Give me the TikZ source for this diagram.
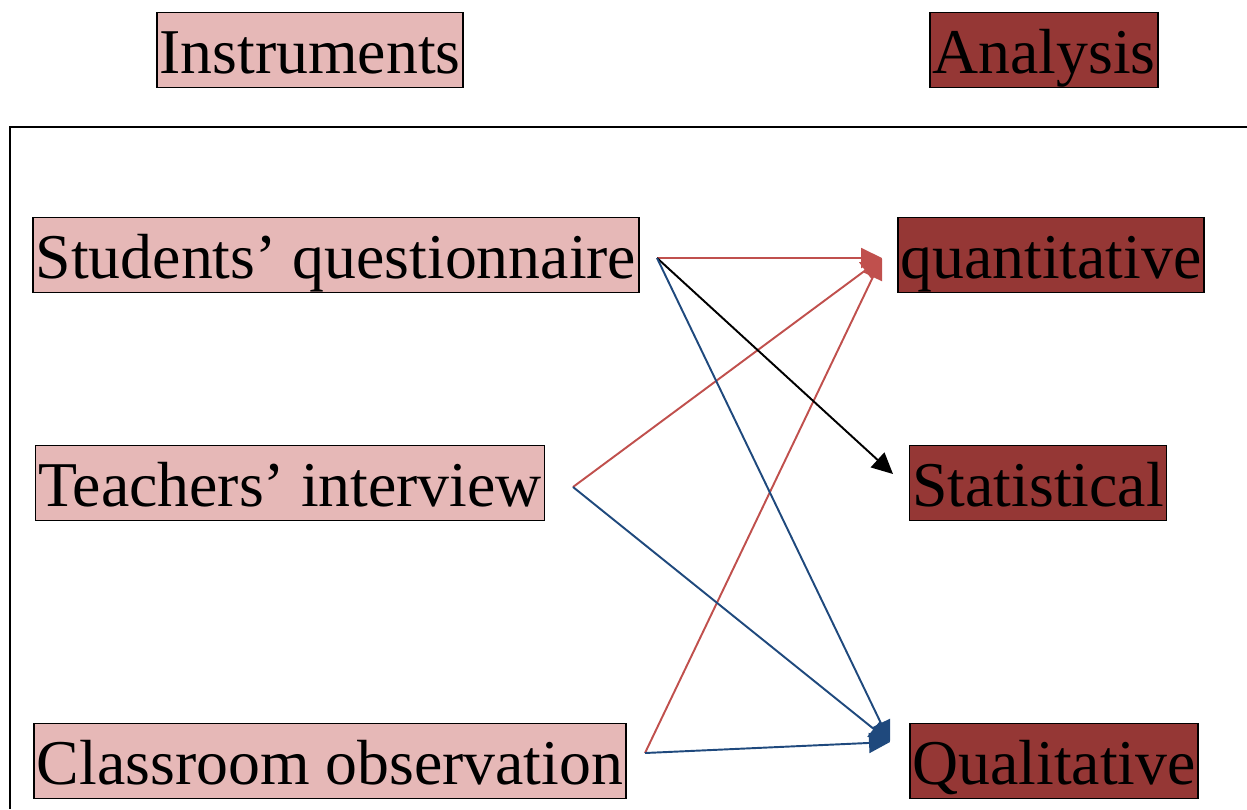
\documentclass[tikz,border=0pt]{standalone}
\usepackage{fontspec}
\setmainfont{Liberation Serif}
\usetikzlibrary{positioning,arrows.meta}
\definecolor{instrbg}{RGB}{230,184,183}
\definecolor{analysisbg}{RGB}{149,55,53}
\definecolor{linkred}{RGB}{192,80,77}
\definecolor{linkblue}{RGB}{31,73,125}

\begin{document}
\begin{tikzpicture}[x=0.02cm,y=-0.02cm,every node/.style={font=\fontsize{36.3}{40}\selectfont},instr/.style={draw,fill=instrbg,line width=1pt,inner xsep=1.5pt,inner ysep=0pt,text height=28pt,text depth=1.4pt,minimum height=1.5cm},anal/.style={instr,fill=analysisbg},link/.style={-{Triangle[length=0.42cm,width=0.4cm]},line width=1.1pt}]
        \useasboundingbox (0,0) rectangle (1247,809);
        \draw[line width=1.1pt] (1247,127) -- (10,127) -- (10,809);
        % headings
        \node[instr] (instrhead) at (310,50) {Instruments};
        \node[anal] (analhead) at (1044,50) {Analysis};
        % instruments
        \node[instr] (quest) at (336,255) {Students’ questionnaire};
        \node[instr] (interview) at (290,483) {Teachers’ interview};
        \node[instr] (observ) at (330,761) {Classroom observation};
        % analysis
        \node[anal] (quant) at (1051,255) {quantitative};
        \node[anal] (stat) at (1038,483) {Statistical};
        \node[anal] (qual) at (1054,761) {Qualitative};
        % link ends
        \coordinate (questout) at (657,258);
        \coordinate (interviewout) at (573,487);
        \coordinate (observout) at (645,753);
        \coordinate (quantin) at (882,258);
        \coordinate (statin) at (893,474);
        \coordinate (qualin) at (890,742);
        \draw[link,linkred] (questout)--(quantin);
        \draw[link,linkred] (interviewout)--(quantin);
        \draw[link,linkred] (observout)--(quantin);
        \draw[link] (questout)--(statin);
        \draw[link,linkblue] (questout)--(qualin);
        \draw[link,linkblue] (interviewout)--(qualin);
        \draw[link,linkblue] (observout)--(qualin);
      \end{tikzpicture}
\end{document}
